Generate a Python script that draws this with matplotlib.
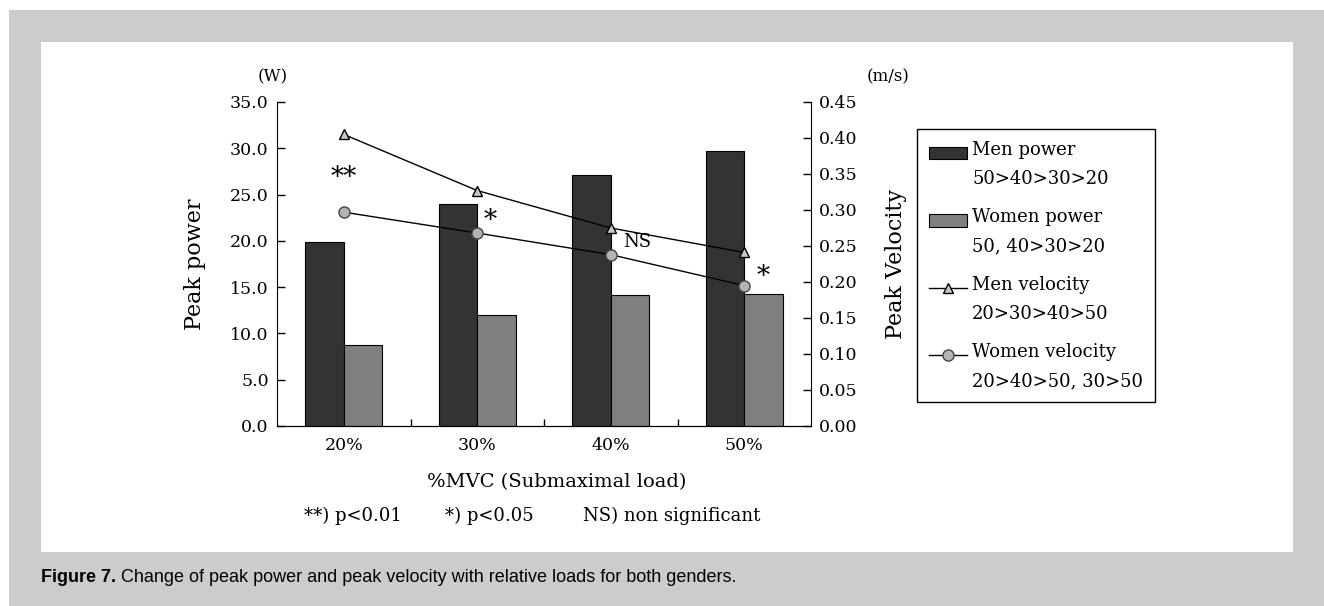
import matplotlib
matplotlib.use('Agg')
import numpy as np
import matplotlib.pyplot as plt
from matplotlib.patches import Rectangle
from matplotlib.lines import Line2D
from matplotlib.transforms import Affine2D
from matplotlib.legend_handler import HandlerPatch, HandlerLine2D

plt.rcParams['font.family'] = ['DejaVu Serif']

categories = ['20%', '30%', '40%', '50%']
men_power = [19.9, 24.0, 27.1, 29.7]
women_power = [8.8, 12.0, 14.1, 14.3]
men_velocity = [0.405, 0.327, 0.275, 0.241]
women_velocity = [0.297, 0.268, 0.238, 0.195]
sig_marks = ['**', '*', 'NS', '*']
legend_labels = ['Men power\n50>40>30>20',
                 'Women power\n50, 40>30>20',
                 'Men velocity\n20>30>40>50',
                 'Women velocity\n20>40>50, 30>50']


# legend handles sit on the first line of a two-line label
class RaisedPatch(HandlerPatch):
    def create_artists(self, legend, orig_handle, xdescent, ydescent,
                       width, height, fontsize, trans):
        trans = Affine2D().translate(0, 0.66 * fontsize) + trans
        return super().create_artists(legend, orig_handle, xdescent, ydescent,
                                      width, height, fontsize, trans)


class RaisedLine(HandlerLine2D):
    def create_artists(self, legend, orig_handle, xdescent, ydescent,
                       width, height, fontsize, trans):
        trans = Affine2D().translate(0, 0.66 * fontsize) + trans
        return super().create_artists(legend, orig_handle, xdescent, ydescent,
                                      width, height, fontsize, trans)


W, H = 1324, 606
fig = plt.figure(figsize=(W / 100, H / 100), dpi=100)
fig.patch.set_facecolor('white')
fig.add_artist(Rectangle((9 / W, 0), 1, 1 - 10 / H, transform=fig.transFigure,
                         facecolor='#cccccc', edgecolor='none', zorder=-20))
fig.add_artist(Rectangle((41 / W, 1 - 552 / H), (1293 - 41) / W, (552 - 42) / H,
                         transform=fig.transFigure, facecolor='white',
                         edgecolor='none', zorder=-19))

ax = fig.add_axes([277 / W, 1 - 426 / H, 534 / W, 324 / H])
ax.patch.set_alpha(0)
x = np.arange(len(categories))
bw = 0.29
b1 = ax.bar(x - bw / 2, men_power, bw, color='#333333', edgecolor='black', lw=0.8)
b2 = ax.bar(x + bw / 2, women_power, bw, color='#808080', edgecolor='black', lw=0.8)
ax.set_xlim(-0.5, 3.5)
ax.set_ylim(0, 35)
ax.set_yticks(np.arange(0, 35.1, 5))
ax.yaxis.set_major_formatter('{x:.1f}')
ax.tick_params(axis='y', direction='in', length=6, width=1, labelsize=12.5, pad=6)
ax.set_xticks(x, categories)
ax.tick_params(axis='x', which='major', length=0, pad=8, labelsize=12.5)
ax.set_xticks([0.5, 1.5, 2.5], minor=True)
ax.tick_params(axis='x', which='minor', direction='in', length=5, width=1)
ax.spines['top'].set_visible(False)
ax.spines['right'].set_visible(False)
ax.set_ylabel('Peak power', fontsize=16)
ax.yaxis.set_label_coords(-0.133, 0.5)
ax.set_xlabel('%MVC (Submaximal load)', fontsize=14)
ax.xaxis.set_label_coords(0.524, -0.173)
ax.xaxis.label.set_va('center')
ax.text(-0.009, 1.077, '(W)', transform=ax.transAxes, ha='center', va='center',
        fontsize=12)

ax2 = ax.twinx()
l1, = ax2.plot(x, men_velocity, '-^', color='black', lw=1, mfc='#c8c8c8',
               mec='black', ms=6.5)
l2, = ax2.plot(x, women_velocity, '-o', color='black', lw=1, mfc='#b4b4b4',
               mec='#444444', ms=8)
ax2.set_ylim(0, 0.45)
ax2.set_yticks(np.arange(0, 0.451, 0.05))
ax2.yaxis.set_major_formatter('{x:.2f}')
ax2.tick_params(axis='y', direction='in', length=6, width=1, labelsize=12.5, pad=6)
ax2.spines['top'].set_visible(False)
ax2.spines['left'].set_visible(False)
ax2.set_ylabel('Peak Velocity', fontsize=16)
ax2.yaxis.set_label_coords(1.1386, 0.5)
ax2.text(1.144, 1.077, '(m/s)', transform=ax.transAxes, ha='center', va='center',
         fontsize=12)

# significance marks (x offset from category, y in W)
mark_dx = [0.0, 0.1, 0.2, 0.14]
mark_y = [26.8, 22.2, 19.5, 16.1]
for i, m in enumerate(sig_marks):
    fs = 13 if m == 'NS' else 19
    yy = mark_y[i] + (0.4 if m == 'NS' else 0)
    ax.text(x[i] + mark_dx[i], yy, m, ha='center', va='center', fontsize=fs)

leg = ax2.legend([b1[0], b2[0], l1, l2], legend_labels, loc='upper left',
                 bbox_to_anchor=(917 / W, 1 - 129 / H), bbox_transform=fig.transFigure,
                 borderaxespad=0, frameon=True, fancybox=False, edgecolor='black',
                 framealpha=1, fontsize=13, handlelength=2.1, handletextpad=0.3,
                 labelspacing=1.12, borderpad=0.65,
                 handler_map={Rectangle: RaisedPatch(), Line2D: RaisedLine()})
leg.get_frame().set_linewidth(1.0)
for t in leg.get_texts():
    t.set_linespacing(1.8)

fy = 1 - 516 / H
fig.text(304 / W, fy, '**) p<0.01', fontsize=13, va='center')
fig.text(445 / W, fy, '*) p<0.05', fontsize=13, va='center')
fig.text(583 / W, fy, 'NS) non significant', fontsize=13, va='center')

cap = fig.text(41 / W, 1 - 578 / H, 'Figure 7.', family='Liberation Sans',
               weight='bold', fontsize=13, va='center')
plt.annotate(' Change of peak power and peak velocity with relative loads for both genders.',
             xy=(1, 0.5), xycoords=cap, va='center', ha='left',
             family='Liberation Sans', fontsize=13, annotation_clip=False)

fig.savefig('out.png', dpi=100)
